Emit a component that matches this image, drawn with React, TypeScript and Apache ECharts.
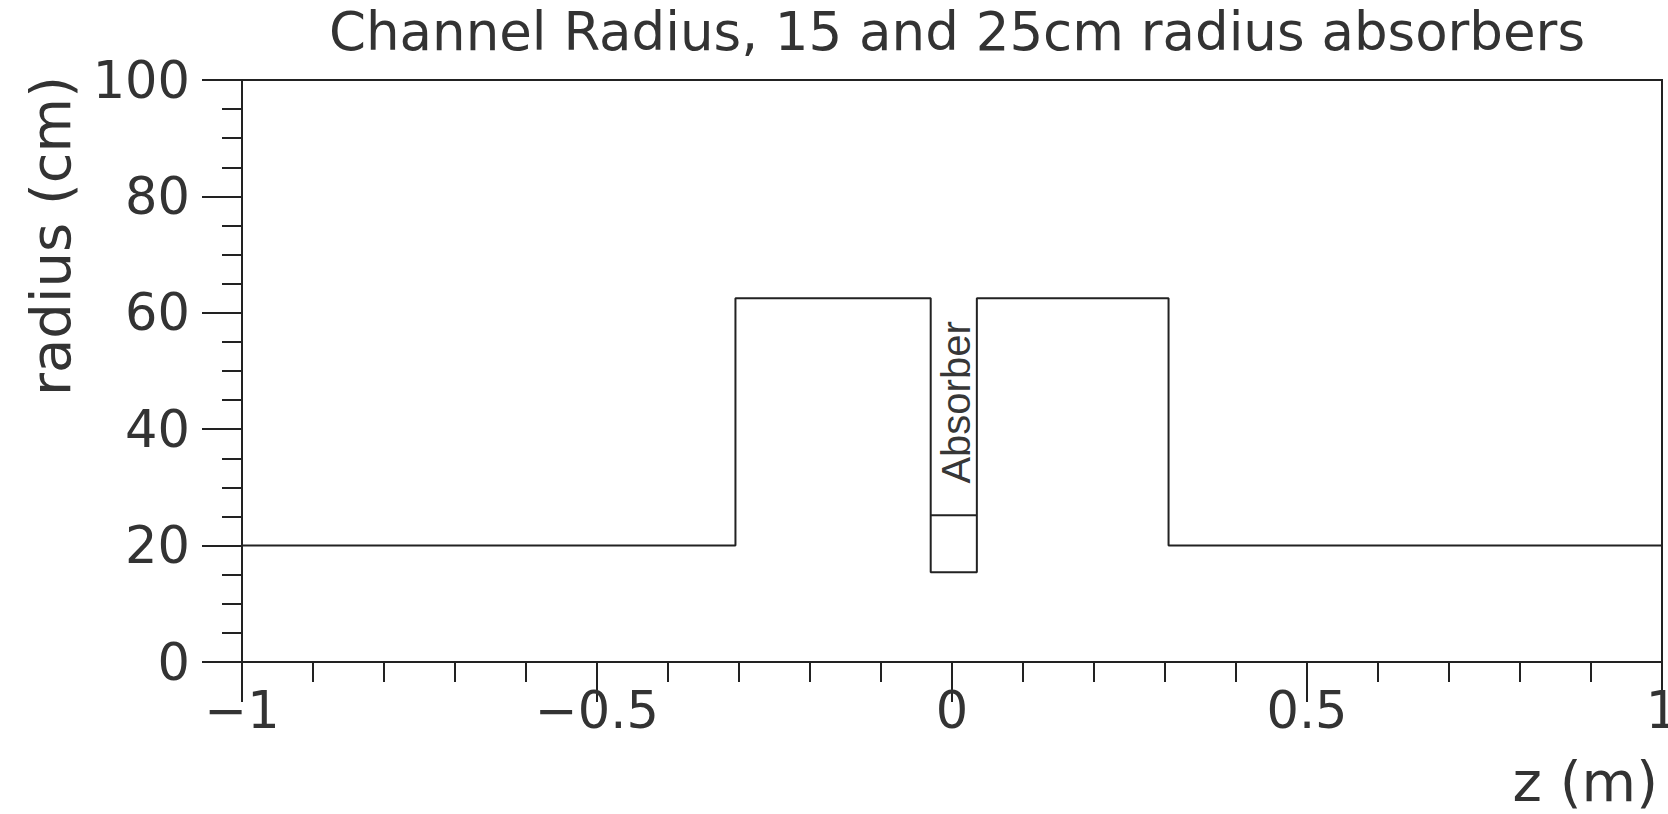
import { useEffect, useRef } from "react";
import * as echarts from "echarts";

// Channel wall profile: z position (m) and radius (cm) at each corner of the step outline
const zBreaks = [-1, -0.305, -0.305, -0.03, -0.03, 0.035, 0.035, 0.305, 0.305, 1];
const channelRadius = [20, 20, 62.5, 62.5, 15.4, 15.4, 62.5, 62.5, 20, 20];

// Top edge of the absorber block
const absorberZ = [-0.03, 0.035];
const absorberTop = [25.2, 25.2];

// Where the "Absorber" caption sits (data coordinates)
const absorberCaptionZ = 0.005;
const absorberCaptionR = 44.6;

// Tick labels for the z axis
const zTickValues = [-1, -0.5, 0, 0.5, 1];
const zTickLabels = ["\u22121", "\u22120.5", "0", "0.5", "1"];

const TITLE = "Channel Radius, 15 and 25cm radius absorbers";
const FONT = "'DejaVu Sans', sans-serif";
const INK = "#333333";
const LINE = "#222222";

export default function App() {
  const ref = useRef<HTMLDivElement>(null);

  useEffect(() => {
    if (!ref.current) return;
    const chart = echarts.init(ref.current, undefined, { renderer: "svg" });

    const profile = zBreaks.map((z, i) => [z, channelRadius[i]]);
    const absorberEdge = absorberZ.map((z, i) => [z, absorberTop[i]]);

    chart.setOption({
      animation: false,
      backgroundColor: "#ffffff",
      title: {
        text: TITLE,
        left: 952,
        top: 0,
        textAlign: "center",
        textStyle: { fontFamily: FONT, fontSize: 53, fontWeight: "normal", color: INK },
      },
      grid: {
        left: 242,
        right: 6,
        top: 80,
        bottom: 152,
        outerBoundsMode: "none",
        containLabel: false,
        show: true,
        borderColor: LINE,
        borderWidth: 2,
        backgroundColor: "transparent",
      },
      xAxis: {
        type: "value",
        min: -1,
        max: 1,
        interval: 0.5,
        axisLine: { onZero: false, lineStyle: { color: LINE, width: 2 } },
        axisTick: { show: true, inside: false, length: 40, lineStyle: { color: LINE, width: 2 } },
        minorTick: { show: true, splitNumber: 5, length: 20, lineStyle: { color: LINE, width: 2 } },
        splitLine: { show: false },
        axisLabel: {
          margin: 23,
          fontFamily: FONT,
          fontSize: 51,
          color: INK,
          showMinLabel: true,
          showMaxLabel: true,
          hideOverlap: false,
          formatter: (v: number) => {
            const i = zTickValues.findIndex((t) => Math.abs(t - v) < 1e-9);
            return i >= 0 ? zTickLabels[i] : "";
          },
        },
      },
      yAxis: {
        type: "value",
        min: 0,
        max: 100,
        interval: 20,
        axisLine: { show: true, onZero: false, lineStyle: { color: LINE, width: 2 } },
        axisTick: { show: true, inside: false, length: 40, lineStyle: { color: LINE, width: 2 } },
        minorTick: { show: true, splitNumber: 4, length: 20, lineStyle: { color: LINE, width: 2 } },
        splitLine: { show: false },
        axisLabel: { margin: 52, fontFamily: FONT, fontSize: 51, color: INK },
      },
      graphic: [
        {
          type: "text",
          x: 50,
          y: 236,
          rotation: Math.PI / 2,
          style: {
            text: "radius (cm)",
            fontFamily: FONT,
            fontSize: 56,
            fill: INK,
            align: "center",
            verticalAlign: "middle",
          },
        },
        {
          type: "text",
          x: 1658,
          y: 781,
          style: {
            text: "z (m)",
            fontFamily: FONT,
            fontSize: 56,
            fill: INK,
            align: "right",
            verticalAlign: "middle",
          },
        },
      ],
      series: [
        {
          type: "line",
          data: profile,
          symbol: "none",
          silent: true,
          lineStyle: { color: LINE, width: 2 },
        },
        {
          type: "line",
          data: absorberEdge,
          symbol: "none",
          silent: true,
          lineStyle: { color: LINE, width: 2 },
        },
        {
          type: "scatter",
          data: [[absorberCaptionZ, absorberCaptionR]],
          symbolSize: 0,
          silent: true,
          label: {
            show: true,
            position: "inside",
            rotate: 90,
            formatter: "Absorber",
            fontFamily: "'Liberation Sans', Arial, sans-serif",
            fontSize: 40,
            color: "#000000",
          },
        },
      ],
    });

    return () => chart.dispose();
  }, []);

  return (
    <div
      ref={ref}
      style={{ position: "fixed", left: 0, top: 0, width: 1668, height: 814, background: "#fff" }}
    />
  );
}
